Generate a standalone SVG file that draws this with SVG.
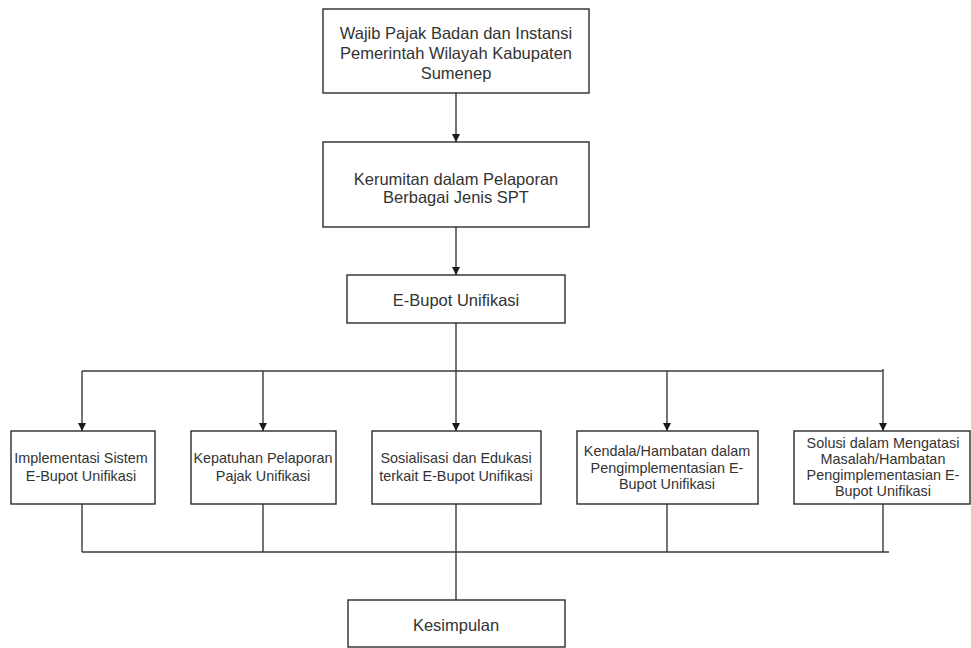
<svg xmlns="http://www.w3.org/2000/svg" width="971" height="648" viewBox="0 0 971 648">
<style>
.box{fill:#fff;stroke:#2b2b2b;stroke-width:1.4}
.ln{fill:none;stroke:#3a3a3a;stroke-width:1.4}
.t{font-family:"Liberation Sans",Arial,sans-serif;fill:#333;text-anchor:middle}
.big{font-size:16.5px}
.sm{font-size:14.4px}
</style>
<defs>
<marker id="ah" viewBox="0 0 10 10" refX="10" refY="5" markerWidth="8" markerHeight="8" markerUnits="userSpaceOnUse" orient="auto">
<path d="M0,0 L10,5 L0,10 Z" fill="#1a1a1a"/>
</marker>
</defs>
<rect width="971" height="648" fill="#fff"/>
<g id="connectors">
<line class="ln" x1="456" y1="93" x2="456" y2="142" marker-end="url(#ah)"/>
<line class="ln" x1="456" y1="227" x2="456" y2="275" marker-end="url(#ah)"/>
<line class="ln" x1="456" y1="323" x2="456" y2="431" marker-end="url(#ah)"/>
<line class="ln" x1="82" y1="371" x2="883" y2="371"/>
<line class="ln" x1="82" y1="371" x2="82" y2="431" marker-end="url(#ah)"/>
<line class="ln" x1="263" y1="371" x2="263" y2="431" marker-end="url(#ah)"/>
<line class="ln" x1="667" y1="371" x2="667" y2="431" marker-end="url(#ah)"/>
<line class="ln" x1="883" y1="369" x2="883" y2="431" marker-end="url(#ah)"/>
<line class="ln" x1="82" y1="504" x2="82" y2="552"/>
<line class="ln" x1="263" y1="504" x2="263" y2="552"/>
<line class="ln" x1="456" y1="504" x2="456" y2="600"/>
<line class="ln" x1="667" y1="504" x2="667" y2="552"/>
<line class="ln" x1="883" y1="504" x2="883" y2="552"/>
<line class="ln" x1="82" y1="552" x2="889" y2="552"/>
</g>
<g id="n1">
<rect class="box" x="323" y="9" width="266" height="84"/>
<text class="t big" x="456" y="39">Wajib Pajak Badan dan Instansi</text>
<text class="t big" x="456" y="59">Pemerintah Wilayah Kabupaten</text>
<text class="t big" x="456" y="79">Sumenep</text>
</g>
<g id="n2">
<rect class="box" x="323" y="142" width="266" height="85"/>
<text class="t big" x="456" y="185">Kerumitan dalam Pelaporan</text>
<text class="t big" x="456" y="203">Berbagai Jenis SPT</text>
</g>
<g id="n3">
<rect class="box" x="347" y="275" width="218" height="48"/>
<text class="t big" x="456" y="306">E-Bupot Unifikasi</text>
</g>
<g id="nA">
<rect class="box" x="11" y="431" width="144" height="73"/>
<text class="t sm" x="81" y="463">Implementasi Sistem</text>
<text class="t sm" x="81" y="480.5">E-Bupot Unifikasi</text>
</g>
<g id="nB">
<rect class="box" x="191" y="431" width="145" height="73"/>
<text class="t sm" x="263" y="463">Kepatuhan Pelaporan</text>
<text class="t sm" x="263" y="480.5">Pajak Unifikasi</text>
</g>
<g id="nC">
<rect class="box" x="372" y="431" width="169" height="73"/>
<text class="t sm" x="456" y="463">Sosialisasi dan Edukasi</text>
<text class="t sm" x="456" y="480.5">terkait E-Bupot Unifikasi</text>
</g>
<g id="nD">
<rect class="box" x="577" y="431" width="181" height="73"/>
<text class="t sm" x="667" y="456">Kendala/Hambatan dalam</text>
<text class="t sm" x="667" y="472.5">Pengimplementasian E-</text>
<text class="t sm" x="667" y="489">Bupot Unifikasi</text>
</g>
<g id="nE">
<rect class="box" x="794" y="431" width="176" height="73"/>
<text class="t sm" x="883" y="448">Solusi dalam Mengatasi</text>
<text class="t sm" x="883" y="464">Masalah/Hambatan</text>
<text class="t sm" x="883" y="480">Pengimplementasian E-</text>
<text class="t sm" x="883" y="496">Bupot Unifikasi</text>
</g>
<g id="nK">
<rect class="box" x="348" y="600" width="217" height="47"/>
<text class="t big" x="456" y="631">Kesimpulan</text>
</g>
</svg>
